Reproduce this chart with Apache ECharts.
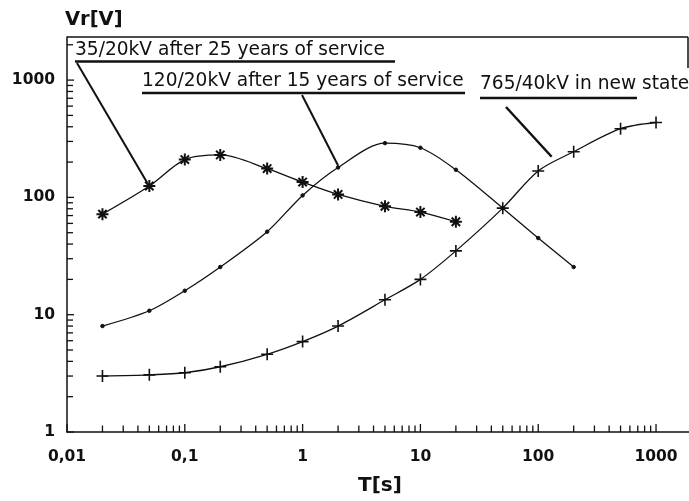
<!DOCTYPE html>
<html>
<head>
<meta charset="utf-8">
<script src="https://cdn.jsdelivr.net/npm/echarts@6/dist/echarts.min.js"></script>
<style>
  html, body { margin: 0; padding: 0; background: #fff; }
  #chart { width: 689px; height: 501px; }
</style>
</head>
<body>
<div id="chart"></div>
<script>
// Residual voltage Vr versus time T for three transformers (log-log)
const seriesNames = [
  '35/20kV after 25 years of service',
  '120/20kV after 15 years of service',
  '765/40kV in new state'
];

// 35/20kV, 25 years in service
const tOld35 = [0.02, 0.05, 0.1, 0.2, 0.5, 1, 2, 5, 10, 20];
const vrOld35 = [72, 125, 210, 230, 176, 135, 106, 84, 75, 62];

// 120/20kV, 15 years in service
const tMid120 = [0.02, 0.05, 0.1, 0.2, 0.5, 1, 2, 5, 10, 20, 50, 100, 200];
const vrMid120 = [8, 10.8, 16, 25.5, 51, 104, 180, 290, 265, 172, 81, 45, 25.5];

// 765/40kV, new
const tNew765 = [0.02, 0.05, 0.1, 0.2, 0.5, 1, 2, 5, 10, 20, 50, 100, 200, 500, 1000];
const vrNew765 = [3, 3.07, 3.2, 3.6, 4.6, 5.9, 8, 13.4, 20, 35, 81, 168, 245, 385, 435];

// axis ranges and tick structure
const tMin = 0.01, tMax = 1905;
const vMin = 1, vMax = 2330;
const tDecades = [0.01, 0.1, 1, 10, 100, 1000];
const vDecades = [1, 10, 100, 1000];
const subSteps = [1, 2, 3, 4, 5, 6, 7, 8, 9];

const zip = (xs, ys) => xs.map((x, i) => [x, ys[i]]);

function logTicks(decades, lo, hi) {
  const out = [];
  decades.forEach(d => subSteps.forEach(m => {
    const v = +(d * m).toPrecision(6);
    if (v >= lo && v <= hi) out.push([v, m === 1]);
  }));
  return out;
}
const xTicks = logTicks(tDecades, tMin, tMax);
const yTicks = logTicks(vDecades, vMin, vMax);

const ink = '#111';
const labelFont = { fontFamily: 'DejaVu Sans', fontWeight: 'bold', fontSize: 15.5, color: ink };
const fmt = v => String(+(+v).toPrecision(6)).replace('.', ',');

const chart = echarts.init(document.getElementById('chart'), null, { renderer: 'canvas' });

const lineBase = {
  type: 'line',
  smooth: 0.3,
  lineStyle: { color: ink, width: 1.3 },
  itemStyle: { color: ink, borderColor: ink },
  emphasis: { disabled: true },
  z: 3
};

chart.setOption({
  animation: false,
  backgroundColor: '#fff',
  grid: { left: 67, right: 0, top: 37, bottom: 69 },
  xAxis: {
    type: 'log', logBase: 10, min: tMin, max: tMax, interval: 1,
    axisLine: { show: true, lineStyle: { color: ink, width: 1.5 } },
    axisTick: { show: false },
    splitLine: { show: false },
    minorTick: { show: false },
    axisLabel: Object.assign({ margin: 17, formatter: fmt, showMaxLabel: false }, labelFont)
  },
  yAxis: {
    type: 'log', logBase: 10, min: vMin, max: vMax, interval: 1,
    axisLine: { show: true, lineStyle: { color: ink, width: 1.5 } },
    axisTick: { show: false },
    splitLine: { show: false },
    minorTick: { show: false },
    axisLabel: Object.assign({ margin: 12, formatter: fmt, showMaxLabel: false }, labelFont)
  },
  series: [
    Object.assign({}, lineBase, {
      name: seriesNames[0],
      data: zip(tOld35, vrOld35),
      symbol: 'path://M5,0L5,10M0,5L10,5M1.5,1.5L8.5,8.5M1.5,8.5L8.5,1.5',
      symbolSize: 12,
      itemStyle: { color: ink, borderColor: ink, borderWidth: 2 }
    }),
    Object.assign({}, lineBase, {
      name: seriesNames[1],
      data: zip(tMid120, vrMid120),
      symbol: 'circle',
      symbolSize: 3.5
    }),
    Object.assign({}, lineBase, {
      name: seriesNames[2],
      data: zip(tNew765, vrNew765),
      symbol: 'path://M5,0L5,10M0,5L10,5',
      symbolSize: [12, 12],
      itemStyle: { color: ink, borderColor: ink, borderWidth: 1.6 }
    }),
    {
      // tick marks along the time axis, pointing into the plot
      type: 'custom',
      silent: true,
      clip: false,
      data: xTicks.map(t => [t[0], vMin, t[1] ? 1 : 0]),
      renderItem(params, api) {
        const p = api.coord([api.value(0), api.value(1)]);
        const len = api.value(2) ? 8 : 6.5;
        return {
          type: 'line',
          shape: { x1: p[0], y1: p[1], x2: p[0], y2: p[1] - len },
          style: { stroke: ink, lineWidth: 1.3 }
        };
      },
      z: 4
    },
    {
      // tick marks along the voltage axis
      type: 'custom',
      silent: true,
      clip: false,
      data: yTicks.map(t => [tMin, t[0], t[1] ? 1 : 0]),
      renderItem(params, api) {
        const p = api.coord([api.value(0), api.value(1)]);
        const len = api.value(2) ? 7 : 6;
        return {
          type: 'line',
          shape: { x1: p[0], y1: p[1], x2: p[0] + len, y2: p[1] },
          style: { stroke: ink, lineWidth: 1.3 }
        };
      },
      z: 4
    }
  ]
});

// annotations: axis titles, labelled leader lines and the frame around them
const px = (t, v) => chart.convertToPixel({ gridIndex: 0 }, [t, v]);
const end1 = px(0.05, 125);
const end2 = px(2, 180);
const end3 = px(130, 222);

const legendFont = { fontFamily: 'DejaVu Sans', fontSize: 18.6, fill: ink };
const line = (x1, y1, x2, y2, w) => ({
  type: 'line', silent: true, z: 10,
  shape: { x1, y1, x2, y2 },
  style: { stroke: ink, lineWidth: w }
});
const text = (x, y, str, style) => ({
  type: 'text', silent: true, z: 10, x, y,
  style: Object.assign({ text: str, textAlign: 'left', textVerticalAlign: 'middle' }, style)
});

chart.setOption({
  graphic: [
    text(65, 20, 'Vr[V]', { fontFamily: 'DejaVu Sans', fontWeight: 'bold', fontSize: 19.5, fill: ink }),
    text(358, 486, 'T[s]', { fontFamily: 'DejaVu Sans', fontWeight: 'bold', fontSize: 20, fill: ink }),

    line(67, 37, 688, 37, 1.5),
    line(688, 37, 688, 68, 1.5),

    text(75, 50, seriesNames[0], legendFont),
    line(75, 61.5, 395, 61.5, 2.5),
    line(77, 63, end1[0] - 2, end1[1] - 3, 2),

    text(142, 81.5, seriesNames[1], legendFont),
    line(142, 93, 465, 93, 2.5),
    line(302, 95, end2[0], end2[1] - 2, 2),

    text(480, 84.5, seriesNames[2], legendFont),
    line(480, 98, 637, 98, 2.5),
    line(506, 107, end3[0], end3[1], 2.5)
  ]
});
</script>
</body>
</html>
